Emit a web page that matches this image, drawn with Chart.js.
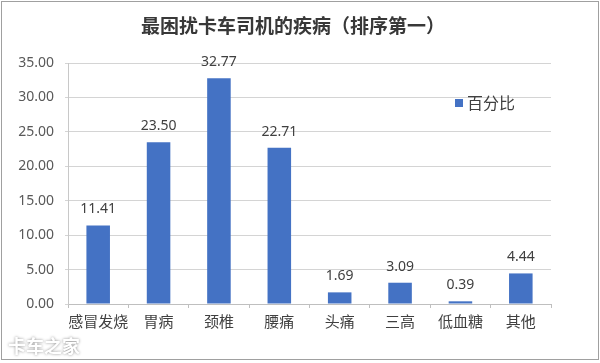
<!DOCTYPE html>
<html>
<head>
<meta charset="utf-8">
<script src="https://cdn.jsdelivr.net/npm/chart.js@4/dist/chart.umd.min.js"></script>
<style>
  html, body { margin: 0; padding: 0; background: #fff; }
  #wrap { width: 600px; height: 363px; }
</style>
</head>
<body>
<div id="wrap"><canvas id="chart"></canvas></div>
<script>
// données
const categories = ["感冒发烧", "胃病", "颈椎", "腰痛", "头痛", "三高", "低血糖", "其他"];
const percents = [11.41, 23.5, 32.77, 22.71, 1.69, 3.09, 0.39, 4.44];
const seriesName = "百分比";
const titleText = "最困扰卡车司机的疾病（排序第一）";

const cjk = '"Noto Sans CJK SC", "Noto Sans", sans-serif';
const num = '"Noto Sans", "Liberation Sans", sans-serif';
const blue = "#4472c4";

// fond blanc, cadre gris, titre et filigrane
const frame = {
  id: "frame",
  beforeDraw(chart) {
    const c = chart.ctx;
    c.save();
    c.fillStyle = "#fff";
    c.fillRect(0, 0, chart.width, chart.height);
    c.restore();
  },
  afterDraw(chart) {
    const c = chart.ctx;
    c.save();
    c.strokeStyle = "#a0a0a0";
    c.lineWidth = 1;
    c.strokeRect(1.5, 1.5, chart.width - 3, chart.height - 5);
    // titre
    c.font = "bold 19px " + cjk;
    c.fillStyle = "#383838";
    c.textAlign = "center";
    c.textBaseline = "middle";
    c.fillText(titleText, 293, 26);
    // filigrane
    c.textAlign = "left";
    c.font = "bold 18px " + cjk;
    c.shadowColor = "rgba(0,0,0,0.45)";
    c.shadowBlur = 3;
    c.fillStyle = "#fff";
    c.fillText("卡车之家", 8, 346);
    c.restore();
  }
};

// valeurs au-dessus des barres
const valueLabels = {
  id: "valueLabels",
  afterDatasetsDraw(chart) {
    const c = chart.ctx;
    const meta = chart.getDatasetMeta(0);
    c.save();
    c.font = "14px " + num;
    c.fillStyle = "#404040";
    c.textAlign = "center";
    c.textBaseline = "alphabetic";
    meta.data.forEach((bar, i) => {
      c.fillText(percents[i].toFixed(2), bar.x, bar.y - 12);
    });
    c.restore();
  }
};

// légende dans la zone du graphe
const innerLegend = {
  id: "innerLegend",
  afterDraw(chart) {
    const c = chart.ctx;
    const x = 455, y = 103;
    c.save();
    c.fillStyle = blue;
    c.fillRect(x, y - 4, 8, 8);
    c.font = "16px " + cjk;
    c.fillStyle = "#404040";
    c.textBaseline = "middle";
    c.fillText(seriesName, x + 12, y);
    c.restore();
  }
};

new Chart(document.getElementById("chart"), {
  type: "bar",
  data: {
    labels: categories,
    datasets: [
      {
        label: seriesName,
        data: percents,
        backgroundColor: blue,
        barPercentage: 0.39,
        categoryPercentage: 1,
      },
    ],
  },
  options: {
    responsive: true,
    maintainAspectRatio: false,
    animation: false,
    layout: { padding: { left: 0, right: 49, top: 63, bottom: 29 } },
    plugins: {
      legend: { display: false },
      tooltip: { enabled: false },
      title: { display: false },
    },
    scales: {
      x: {
        grid: {
          offset: true,
          drawOnChartArea: false,
          tickLength: 4,
          color: "#bfbfbf",
        },
        border: { color: "#bfbfbf" },
        ticks: {
          color: "#404040",
          font: { family: cjk, size: 15 },
          padding: 4,
          maxRotation: 0,
          autoSkip: false,
        },
      },
      y: {
        min: 0,
        max: 35,
        afterFit(s) { s.width = 68; },
        grid: { color: "#d4d4d4", tickLength: 3 },
        border: { color: "#c8c8c8" },
        ticks: {
          stepSize: 5,
          color: "#595959",
          font: { family: num, size: 14 },
          padding: 11,
          callback: (v) => v.toFixed(2),
        },
      },
    },
  },
  plugins: [frame, valueLabels, innerLegend],
});
</script>
</body>
</html>
